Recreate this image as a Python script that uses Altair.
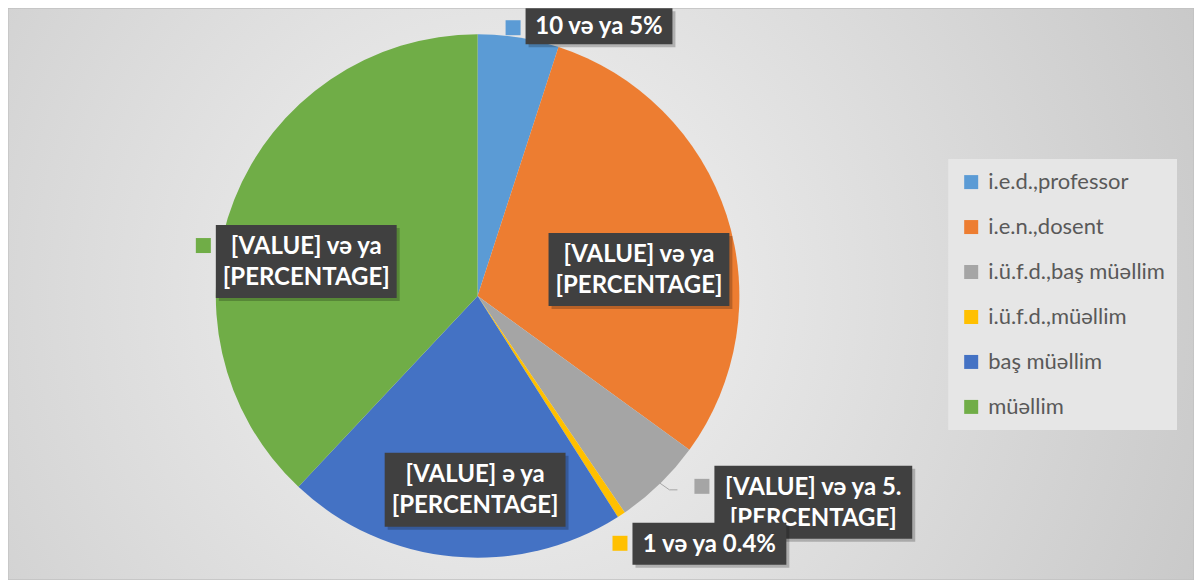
import altair as alt
import pandas as pd

# ---- data ----
categories = ["i.e.d.,professor", "i.e.n.,dosent", "i.ü.f.d.,baş müəllim",
              "i.ü.f.d.,müəllim", "baş müəllim", "müəllim"]
values = [10, 60, 11, 1, 42, 76]
colors = ["#5B9BD5", "#ED7D31", "#A5A5A5", "#FFC000", "#4472C4", "#70AD47"]
label_texts = ["10 və ya 5%", "[VALUE] və ya\n[PERCENTAGE]",
               "[VALUE] və ya 5.\n[PERCENTAGE]", "1 və ya 0.4%",
               "[VALUE] ə ya\n[PERCENTAGE]", "[VALUE] və ya\n[PERCENTAGE]"]

# ---- layout (pixels, relative to pie centre) ----
W, H = 1187, 572
CX, CY = 470, 288
R = 262
label_boxes = [(48, 195, -288, -252), (71, 252, -63, 10), (237, 435, 170, 243),
               (155, 309, 227, 269), (-93, 88, 157, 231), (-262, -81, -71, 2)]
markers = [(28, -276), None, (217, 183), (135, 240), None, (-282, -58)]
label_pass = [0, 0, 0, 1, 0, 0]
MS = 15
LH = 31
leader = [(182, 187), (192, 194), (200, 194)]

pie_df = pd.DataFrame({"category": categories, "value": values,
                       "idx": list(range(len(categories)))})

rows = []
for i, (t, b) in enumerate(zip(label_texts, label_boxes)):
    x1, x2, y1, y2 = b
    nl = t.count("\n")
    rows.append(dict(text=t, x1=x1, x2=x2, y1=y1, y2=y2,
                     sx1=x1 + 3, sx2=x2 + 3, sy1=y1 + 3, sy2=y2 + 3,
                     xc=(x1 + x2) / 2, yc=(y1 + y2) / 2 - nl * LH / 2 + 1,
                     p=label_pass[i], color=colors[i]))
lab_df = pd.DataFrame(rows)

mrows = []
for i, m in enumerate(markers):
    if m is not None:
        mrows.append(dict(x1=m[0], x2=m[0] + MS, y1=m[1], y2=m[1] + MS,
                          color=colors[i], p=label_pass[i]))
mk_df = pd.DataFrame(mrows)

lead_df = pd.DataFrame({"x": [p[0] for p in leader], "y": [p[1] for p in leader],
                        "o": [0, 1, 2]})

xs = alt.Scale(domain=[-CX, W - CX], range=[0, W], nice=False, zero=False)
ys = alt.Scale(domain=[-CY, H - CY], range=[0, H], nice=False, zero=False)

bg = alt.Chart(pd.DataFrame({"a": [0]})).mark_rect(
    color={"gradient": "radial",
           "stops": [{"offset": 0, "color": "#f4f4f4"},
                     {"offset": 1, "color": "#c3c3c3"}],
           "x1": 0.42, "y1": 0.5, "r1": 0,
           "x2": 0.42, "y2": 0.5, "r2": 0.72},
    stroke="#bdbdbd", strokeWidth=1
).encode(x=alt.value(0), x2=alt.value(W), y=alt.value(0), y2=alt.value(H))

pie = alt.Chart(pie_df).mark_arc(outerRadius=R, innerRadius=0).encode(
    theta=alt.Theta("value:Q", stack=True),
    color=alt.Color("category:N",
                    scale=alt.Scale(domain=categories, range=colors),
                    legend=alt.Legend(orient="none", legendX=941, legendY=151,
                                      title=None, symbolType="square",
                                      symbolSize=196, symbolStrokeWidth=0,
                                      labelFontSize=22, labelFont="Lato",
                                      labelColor="#595959", rowPadding=23,
                                      padding=12, fillColor="#e6e6e6",
                                      labelOffset=6, labelLimit=400)),
    order=alt.Order("idx:Q"),
    x=alt.value(CX), y=alt.value(CY),
)

lead = alt.Chart(lead_df).mark_line(color="#a6a6a6", strokeWidth=1).encode(
    x=alt.X("x:Q", scale=xs, axis=None), y=alt.Y("y:Q", scale=ys, axis=None),
    order="o:Q")


def label_layers(p):
    base = alt.Chart(lab_df).transform_filter(alt.datum.p == p)
    shadow = base.mark_rect(color="#000000", opacity=0.22).encode(
        x=alt.X("sx1:Q", scale=xs, axis=None), x2="sx2:Q",
        y=alt.Y("sy1:Q", scale=ys, axis=None), y2="sy2:Q")
    box = base.mark_rect(color="#404040").encode(
        x=alt.X("x1:Q", scale=xs, axis=None), x2="x2:Q",
        y=alt.Y("y1:Q", scale=ys, axis=None), y2="y2:Q")
    txt = base.mark_text(font="Lato", fontSize=24, fontWeight="bold",
                         color="white", lineBreak="\n", lineHeight=LH,
                         align="center", baseline="middle").encode(
        x=alt.X("xc:Q", scale=xs, axis=None),
        y=alt.Y("yc:Q", scale=ys, axis=None), text="text:N")
    mk = alt.Chart(mk_df).transform_filter(alt.datum.p == p).mark_rect().encode(
        x=alt.X("x1:Q", scale=xs, axis=None), x2="x2:Q",
        y=alt.Y("y1:Q", scale=ys, axis=None), y2="y2:Q",
        fill=alt.Fill("color:N", scale=None))
    return [shadow, box, txt, mk]


chart = alt.layer(bg, pie, lead, *label_layers(0), *label_layers(1)).properties(
    width=W, height=H, padding=0, autosize=alt.AutoSizeParams(type="none")
).configure_view(stroke=None)

chart.save("out.html", embed_options={"renderer": "svg", "actions": False})
